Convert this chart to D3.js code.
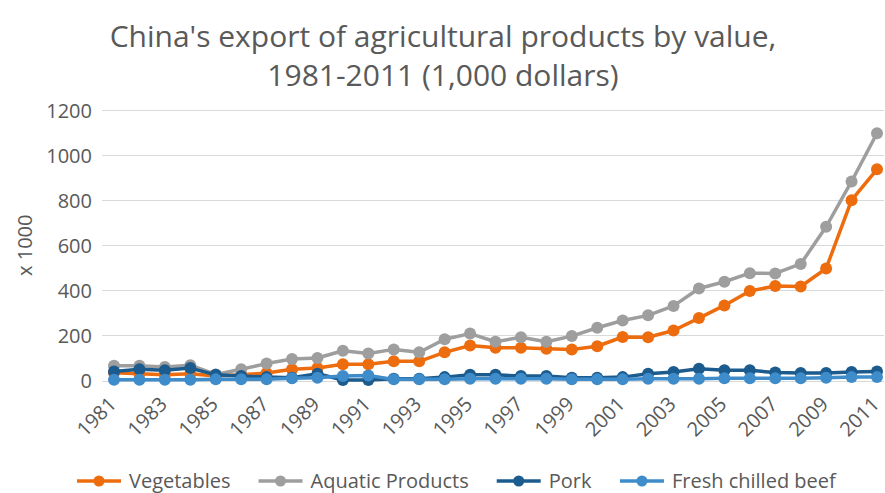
<!DOCTYPE html>
<html>
<head>
<meta charset="utf-8">
<script src="https://cdn.jsdelivr.net/npm/d3@7"></script>
<style>
  html, body { margin: 0; padding: 0; background: #fff; }
  svg { display: block; font-family: "Open Sans", sans-serif; }
</style>
</head>
<body>
<svg id="chart" width="885" height="493"></svg>
<script>
// Values (thousands of 1,000 dollars)
const years = [1981, 1982, 1983, 1984, 1985, 1986, 1987, 1988, 1989, 1990,
  1991, 1992, 1993, 1994, 1995, 1996, 1997, 1998, 1999, 2000,
  2001, 2002, 2003, 2004, 2005, 2006, 2007, 2008, 2009, 2010, 2011];
const vegetables = [34, 30, 25, 30, 20, 25, 33, 50, 55, 72,
  72, 85, 85, 125, 155, 145, 145, 141, 138, 152,
  193, 192, 222, 277, 333, 397, 419, 417, 497, 800, 937];
const aquatic = [65, 65, 60, 68, 27, 50, 75, 95, 100, 132,
  120, 138, 125, 183, 208, 172, 192, 172, 197, 234,
  266, 289, 331, 408, 438, 476, 475, 517, 682, 883, 1097];
const pork = [40, 50, 45, 55, 25, 20, 15, 12, 30, 2,
  2, 8, 8, 15, 25, 25, 20, 20, 12, 12,
  15, 30, 38, 52, 45, 45, 35, 33, 33, 38, 40];
const beef = [3, 3, 3, 3, 5, 5, 5, 10, 12, 20,
  22, 5, 5, 5, 8, 8, 8, 8, 5, 5,
  5, 8, 8, 8, 10, 10, 10, 10, 12, 15, 15];
const yTicks = [0, 200, 400, 600, 800, 1000, 1200];
const xTickYears = years.filter((y, i) => i % 2 === 0);

const series = [
  { name: "Vegetables", values: vegetables, color: "#ED6C0E" },
  { name: "Aquatic Products", values: aquatic, color: "#9E9E9E" },
  { name: "Pork", values: pork, color: "#1C5B8E" },
  { name: "Fresh chilled beef", values: beef, color: "#3F8CCB" }
];

const svg = d3.select("#chart");
const textColor = "#595959";

// plot geometry
const gridLeft = 102, gridRight = 884;
const x = d3.scaleLinear().domain([1981, 2011]).range([114, 877]);
const y = d3.scaleLinear().domain([0, 1200]).range([380.5, 110]);

// title
const title = svg.append("text")
  .attr("text-anchor", "middle")
  .attr("fill", textColor)
  .style("font-size", "30px");
title.append("tspan").attr("x", 443).attr("y", 47).text("China's export of agricultural products by value,");
title.append("tspan").attr("x", 443).attr("y", 86).text("1981-2011 (1,000 dollars)");

// gridlines
svg.append("g")
  .selectAll("line")
  .data(yTicks)
  .join("line")
  .attr("x1", gridLeft).attr("x2", gridRight)
  .attr("y1", d => Math.round(y(d)) + 0.5).attr("y2", d => Math.round(y(d)) + 0.5)
  .attr("stroke", "#D9D9D9")
  .attr("stroke-width", 1);

// y axis labels
const yAxis = svg.append("g")
  .attr("transform", `translate(${gridLeft - 10},0)`)
  .call(d3.axisLeft(y).tickValues(yTicks).tickFormat(d3.format("d")).tickSize(0).tickPadding(0));
yAxis.select(".domain").remove();
yAxis.selectAll("text")
  .attr("fill", textColor)
  .style("font-family", "Open Sans, sans-serif")
  .style("font-size", "20px")
  .attr("dy", "0.35em");

svg.append("text")
  .attr("transform", `translate(25,${y(600)}) rotate(-90)`)
  .attr("text-anchor", "middle")
  .attr("dy", "0.35em")
  .attr("fill", textColor)
  .style("font-size", "20px")
  .text("x 1000");

// x axis labels (rotated -45deg, ending at the tick)
const xAxis = svg.append("g")
  .attr("transform", `translate(0,${y(0)})`)
  .call(d3.axisBottom(x).tickValues(xTickYears).tickFormat(d3.format("d")).tickSize(0).tickPadding(0));
xAxis.select(".domain").remove();
xAxis.selectAll("text")
  .attr("fill", textColor)
  .style("font-family", "Open Sans, sans-serif")
  .style("font-size", "20px")
  .attr("text-anchor", "end")
  .attr("y", 0)
  .attr("dy", 0)
  .attr("transform", "translate(3,25) rotate(-45)");

// series lines and markers
const line = d3.line().x((d, i) => x(years[i])).y(d => y(d));
series.forEach(s => {
  const g = svg.append("g");
  g.append("path")
    .datum(s.values)
    .attr("fill", "none")
    .attr("stroke", s.color)
    .attr("stroke-width", 3.5)
    .attr("stroke-linejoin", "round")
    .attr("d", line);
  g.selectAll("circle")
    .data(s.values)
    .join("circle")
    .attr("cx", (d, i) => x(years[i]))
    .attr("cy", d => y(d))
    .attr("r", 6)
    .attr("fill", s.color);
});

// legend, laid out sequentially and centered
const legend = svg.append("g").attr("transform", "translate(0,481)");
const items = legend.selectAll("g")
  .data(series)
  .join("g");
items.append("line")
  .attr("x1", 0).attr("x2", 44)
  .attr("stroke", d => d.color)
  .attr("stroke-width", 3.5);
items.append("circle")
  .attr("cx", 22).attr("r", 5.5)
  .attr("fill", d => d.color);
items.append("text")
  .attr("x", 52)
  .attr("dy", "0.35em")
  .attr("fill", textColor)
  .style("font-size", "20px")
  .text(d => d.name);
const gap = 28;
let cursor = 0;
const offsets = [];
items.each(function () {
  offsets.push(cursor);
  cursor += this.getBBox().width + gap;
});
const total = cursor - gap;
const start = 457 - total / 2;
items.attr("transform", (d, i) => `translate(${start + offsets[i]},0)`);
</script>
</body>
</html>
